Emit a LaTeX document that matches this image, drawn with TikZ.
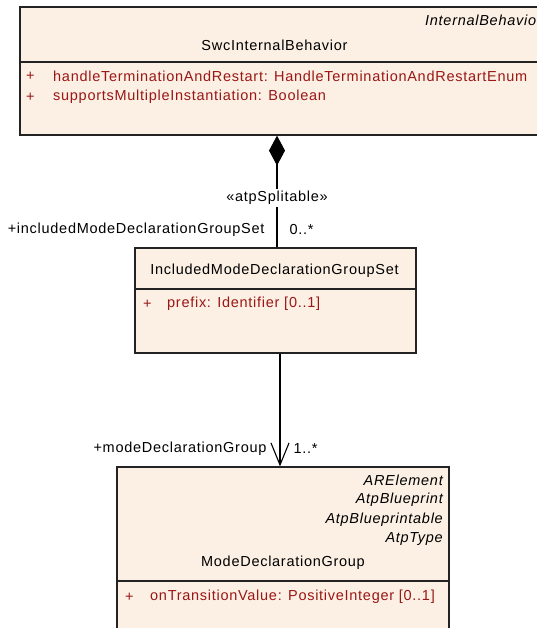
\documentclass[tikz,border=0pt]{standalone}
\usepackage{fontspec}
\setmainfont{Liberation Sans}
\usepackage{tikz}
\usetikzlibrary{arrows.meta,positioning,calc}
\definecolor{umlfill}{RGB}{251,240,227}
\definecolor{umlred}{RGB}{155,22,22}
\definecolor{umledge}{RGB}{35,35,35}

\begin{document}
\begin{tikzpicture}[
  x=1pt,y=-1pt,
  every node/.style={font=\fontsize{14.5}{16}\selectfont\addfontfeature{LetterSpace=5},inner sep=0pt},
  cls/.style args={#1 by #2}{draw=umledge,fill=umlfill,line width=1.2pt,minimum width=#1pt,minimum height=#2pt},
  sep/.style={draw=umledge,line width=1.2pt},
  stereo/.style={font=\fontsize{14.5}{16}\selectfont\itshape\addfontfeature{LetterSpace=5},anchor=east},
  attr/.style={text=umlred,anchor=west},
  assoc/.style={line width=1.1pt,black}
]
\useasboundingbox (0,0) rectangle (537,628);
% classes
\node[cls=540 by 128] (swc) at (290,71) {};
\node[cls=281 by 105] (imdgs) at (275.5,300.5) {};
\node[cls=332 by 175] (mdg) at (283,554.5) {};
\draw[sep] (swc.west |- 0,62) -- (swc.east |- 0,62);
\draw[sep] (imdgs.west |- 0,289) -- (imdgs.east |- 0,289);
\draw[sep] (mdg.west |- 0,581) -- (mdg.east |- 0,581);
% SwcInternalBehavior
\node[stereo,anchor=west] (swcst) at (425,20) {InternalBehavior};
\node (swcname) at (274.5,45) {SwcInternalBehavior};
\node[attr] (swcp1) at (26,76) {+};
\node[attr] (swca1) at (53,76) {handleTerminationAndRestart: HandleTerminationAndRestartEnum};
\node[attr] (swcp2) at (26,97) {+};
\node[attr] (swca2) at (53,97) {supportsMultipleInstantiation: Boolean};
% IncludedModeDeclarationGroupSet
\node (imdgsname) at (274.5,271) {IncludedModeDeclarationGroupSet};
\node[attr] (imdgsp1) at (143,304) {+};
\node[attr] (imdgsa1) at (167,304) {prefix: Identifier [0..1]};
% ModeDeclarationGroup
\node[stereo] (mdgst1) at (443,480) {ARElement};
\node[stereo] (mdgst2) at (443,500) {AtpBlueprint};
\node[stereo] (mdgst3) at (443,520) {AtpBlueprintable};
\node[stereo] (mdgst4) at (443,539) {AtpType};
\node (mdgname) at (283,563) {ModeDeclarationGroup};
\node[attr] (mdgp1) at (125,597) {+};
\node[attr] (mdga1) at (150,597) {onTransitionValue: PositiveInteger [0..1]};
% associations
\draw[assoc,-{Diamond[length=30pt,width=16pt]}] ([xshift=1.5pt]imdgs.north)
  -- node[pos=0.44,fill=white,inner sep=2pt]{«atpSplitable»}
     node[pos=0.16,left=12pt]{+includedModeDeclarationGroupSet}
     node[pos=0.16,right=12pt]{0..*}
  ([xshift=1.5pt]imdgs.north |- swc.south);
\draw[assoc,-{Straight Barb[length=22pt,width=18pt]}] ([xshift=4.5pt]imdgs.south)
  -- node[pos=0.84,left=13pt]{+modeDeclarationGroup}
     node[pos=0.84,right=13pt]{1..*}
  ([xshift=4.5pt]imdgs.south |- mdg.north);
\end{tikzpicture}
\end{document}
